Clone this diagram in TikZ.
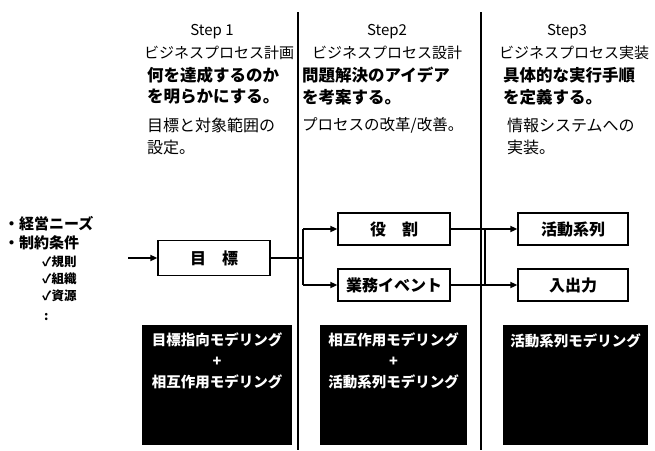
\documentclass[tikz,border=0pt]{standalone}
\usepackage{fontspec}
\setmainfont{Noto Sans CJK JP}
\usetikzlibrary{arrows.meta}
\begin{document}
\begin{tikzpicture}[x=1pt,y=-1pt,
  txt/.style={inner sep=0pt,anchor=west,font=\fontsize{16}{18}\selectfont},
  btxt/.style={txt,font=\fontsize{16.5}{18}\selectfont\bfseries},
  head/.style={inner sep=0pt,font=\fontsize{15}{17}\selectfont},
  wbox/.style={draw,line width=1.3pt,minimum width=112pt,minimum height=32pt,inner sep=0pt,font=\fontsize{16}{18}\selectfont\bfseries},
  bbox/.style={fill=black,text=white,minimum width=150pt,minimum height=120pt,inner sep=0pt},
  btext/.style={text=white,inner sep=0pt,font=\fontsize{14.5}{16}\selectfont\bfseries},
  conn/.style={line width=2.2pt},
  arr/.style={line width=2.2pt,-{Triangle[length=7pt,width=6pt]}},
  divider/.style={line width=2.6pt}]
\useasboundingbox (0,0) rectangle (655,450);

% dividers
\coordinate (d1t) at (298,12); \coordinate (d1b) at (298,450);
\coordinate (d2t) at (481,12); \coordinate (d2b) at (481,450);
\draw[divider] (d1t) -- (d1b);
\draw[divider] (d2t) -- (d2b);

% column 1 header
\node[head] (s1) at (212,32) {Step 1};
\node[head] (h1) at (219,53) {ビジネスプロセス計画};
\node[btxt] (b1a) at (147,75) {何を達成するのか};
\node[btxt] (b1b) at (147,97) {を明らかにする。};
\node[txt] (n1a) at (147,125) {目標と対象範囲の};
\node[txt] (n1b) at (147,147) {設定。};

% column 2 header
\node[head] (s2) at (387,32) {Step2};
\node[head] (h2) at (387,53) {ビジネスプロセス設計};
\node[btxt] (b2a) at (302,75) {問題解決のアイデア};
\node[btxt] (b2b) at (302,97) {を考案する。};
\node[txt,font=\fontsize{15.5}{18}\selectfont] (n2a) at (302,125) {プロセスの改革/改善。};

% column 3 header
\node[head] (s3) at (567,32) {Step3};
\node[head] (h3) at (574,53) {ビジネスプロセス実装};
\node[btxt] (b3a) at (503,75) {具体的な実行手順};
\node[btxt] (b3b) at (503,97) {を定義する。};
\node[txt] (n3a) at (507,125) {情報システムへの};
\node[txt] (n3b) at (507,147) {実装。};

% left list
\node[txt,font=\fontsize{15}{17}\selectfont\bfseries] (l1) at (4,224) {・経営ニーズ};
\node[txt,font=\fontsize{15}{17}\selectfont\bfseries] (l2) at (4,243) {・制約条件};
\node[txt,font=\fontsize{12.5}{14}\selectfont\bfseries] (l3) at (42,262) {✓規則};
\node[txt,font=\fontsize{12.5}{14}\selectfont\bfseries] (l4) at (42,279) {✓組織};
\node[txt,font=\fontsize{12.5}{14}\selectfont\bfseries] (l5) at (42,296) {✓資源};
\node[txt,font=\fontsize{12.5}{14}\selectfont\bfseries] (l6) at (44,317) {:};

% boxes
\node[wbox,minimum height=35pt] (goal) at (214,258) {目\hspace{1em}標};
\node[wbox] (role) at (394,229) {役\hspace{1em}割};
\node[wbox] (event) at (394,285) {業務イベント};
\node[wbox,minimum width=110pt] (act) at (573,229) {活動系列};
\node[wbox,minimum width=110pt] (io) at (573,285) {入出力};

% connectors
\coordinate (in) at (128,258);
\coordinate (j1) at (303,258);
\coordinate (j1t) at (303,229);
\coordinate (j1b) at (303,285);
\coordinate (j2t) at (485,229);
\coordinate (j2b) at (485,285);
\draw[arr] (in) -- (goal.west);
\draw[conn] (goal.east) -- (j1);
\draw[conn] (j1t) -- (j1b);
\draw[arr] (j1t) -- (role.west);
\draw[arr] (j1b) -- (event.west);
\draw[conn] (role.east) -- (j2t);
\draw[conn] (event.east) -- (j2b);
\draw[conn] (j2t) -- (j2b);
\draw[arr] (j2t) -- (act.west);
\draw[arr] (j2b) -- (io.west);

% black boxes
\node[bbox] (m1) at (217,385) {};
\node[bbox,minimum width=147pt] (m2) at (393.5,385) {};
\node[bbox,minimum width=145pt] (m3) at (575.5,385) {};
\node[btext] (m1a) at (217,340) {目標指向モデリング};
\node[btext] (m1p) at (217,362) {+};
\node[btext] (m1b) at (217,382) {相互作用モデリング};
\node[btext] (m2a) at (393.5,340) {相互作用モデリング};
\node[btext] (m2p) at (393.5,362) {+};
\node[btext] (m2b) at (393.5,382) {活動系列モデリング};
\node[btext] (m3a) at (575.5,341) {活動系列モデリング};
\end{tikzpicture}
\end{document}
